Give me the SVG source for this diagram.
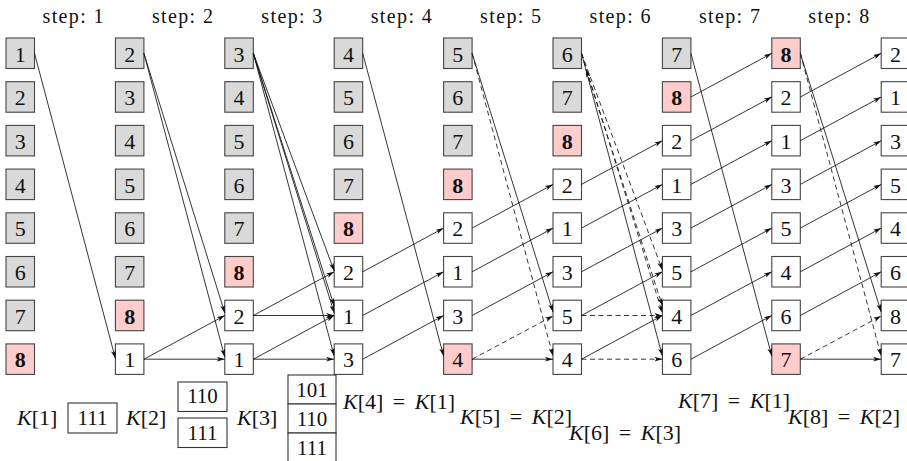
<svg xmlns="http://www.w3.org/2000/svg" width="907" height="461" viewBox="0 0 907 461" font-family="Liberation Serif, serif">
<style>
text{font-family:'Liberation Serif',serif;fill:#111}
.n rect{stroke:#444;stroke-width:1.1}
.n text{font-size:22px;text-anchor:middle}
.g rect{fill:#d9d9d9}
.p rect{fill:#ffcccc}
.w rect{fill:#fff}
.b text{font-weight:bold}
.st{font-size:20px;text-anchor:middle}
.k text{font-size:22px}
.kb rect{fill:#fff;stroke:#333;stroke-width:1.1}
.kb text{font-size:21px;text-anchor:middle}
.i{font-style:italic}
#edges path{fill:none;stroke:#111;stroke-width:0.85;marker-end:url(#ah)}
#edges path.d{stroke-dasharray:5 3.5}
</style>
<defs>
<marker id="ah" viewBox="0 0 10 6" refX="10" refY="3" markerWidth="8" markerHeight="5" markerUnits="userSpaceOnUse" orient="auto-start-reverse"><path d="M0,0 L10,3 L0,6 L2.5,3 z" fill="#111"/></marker>
</defs>
<rect width="907" height="461" fill="#fff"/>
<g id="steps">
<text class="st" x="73" y="22.5" textLength="61" lengthAdjust="spacing">step: 1</text>
<text class="st" x="182.4" y="22.5" textLength="61" lengthAdjust="spacing">step: 2</text>
<text class="st" x="291.8" y="22.5" textLength="61" lengthAdjust="spacing">step: 3</text>
<text class="st" x="401.2" y="22.5" textLength="61" lengthAdjust="spacing">step: 4</text>
<text class="st" x="510.6" y="22.5" textLength="61" lengthAdjust="spacing">step: 5</text>
<text class="st" x="620" y="22.5" textLength="61" lengthAdjust="spacing">step: 6</text>
<text class="st" x="729.4" y="22.5" textLength="61" lengthAdjust="spacing">step: 7</text>
<text class="st" x="838.8" y="22.5" textLength="61" lengthAdjust="spacing">step: 8</text>
</g>
<!-- column 1 -->
<g id="c1r1" class="n g" transform="translate(6,38)"><rect width="28.5" height="30.5"/><text x="14.25" y="23.5">1</text></g>
<g id="c1r2" class="n g" transform="translate(6,81.7)"><rect width="28.5" height="30.5"/><text x="14.25" y="23.5">2</text></g>
<g id="c1r3" class="n g" transform="translate(6,125.4)"><rect width="28.5" height="30.5"/><text x="14.25" y="23.5">3</text></g>
<g id="c1r4" class="n g" transform="translate(6,169.1)"><rect width="28.5" height="30.5"/><text x="14.25" y="23.5">4</text></g>
<g id="c1r5" class="n g" transform="translate(6,212.8)"><rect width="28.5" height="30.5"/><text x="14.25" y="23.5">5</text></g>
<g id="c1r6" class="n g" transform="translate(6,256.5)"><rect width="28.5" height="30.5"/><text x="14.25" y="23.5">6</text></g>
<g id="c1r7" class="n g" transform="translate(6,300.2)"><rect width="28.5" height="30.5"/><text x="14.25" y="23.5">7</text></g>
<g id="c1r8" class="n p b" transform="translate(6,343.9)"><rect width="28.5" height="30.5"/><text x="14.25" y="23.5">8</text></g>
<!-- column 2 -->
<g id="c2r1" class="n g" transform="translate(115.4,38)"><rect width="28.5" height="30.5"/><text x="14.25" y="23.5">2</text></g>
<g id="c2r2" class="n g" transform="translate(115.4,81.7)"><rect width="28.5" height="30.5"/><text x="14.25" y="23.5">3</text></g>
<g id="c2r3" class="n g" transform="translate(115.4,125.4)"><rect width="28.5" height="30.5"/><text x="14.25" y="23.5">4</text></g>
<g id="c2r4" class="n g" transform="translate(115.4,169.1)"><rect width="28.5" height="30.5"/><text x="14.25" y="23.5">5</text></g>
<g id="c2r5" class="n g" transform="translate(115.4,212.8)"><rect width="28.5" height="30.5"/><text x="14.25" y="23.5">6</text></g>
<g id="c2r6" class="n g" transform="translate(115.4,256.5)"><rect width="28.5" height="30.5"/><text x="14.25" y="23.5">7</text></g>
<g id="c2r7" class="n p b" transform="translate(115.4,300.2)"><rect width="28.5" height="30.5"/><text x="14.25" y="23.5">8</text></g>
<g id="c2r8" class="n w" transform="translate(115.4,343.9)"><rect width="28.5" height="30.5"/><text x="14.25" y="23.5">1</text></g>
<!-- column 3 -->
<g id="c3r1" class="n g" transform="translate(224.8,38)"><rect width="28.5" height="30.5"/><text x="14.25" y="23.5">3</text></g>
<g id="c3r2" class="n g" transform="translate(224.8,81.7)"><rect width="28.5" height="30.5"/><text x="14.25" y="23.5">4</text></g>
<g id="c3r3" class="n g" transform="translate(224.8,125.4)"><rect width="28.5" height="30.5"/><text x="14.25" y="23.5">5</text></g>
<g id="c3r4" class="n g" transform="translate(224.8,169.1)"><rect width="28.5" height="30.5"/><text x="14.25" y="23.5">6</text></g>
<g id="c3r5" class="n g" transform="translate(224.8,212.8)"><rect width="28.5" height="30.5"/><text x="14.25" y="23.5">7</text></g>
<g id="c3r6" class="n p b" transform="translate(224.8,256.5)"><rect width="28.5" height="30.5"/><text x="14.25" y="23.5">8</text></g>
<g id="c3r7" class="n w" transform="translate(224.8,300.2)"><rect width="28.5" height="30.5"/><text x="14.25" y="23.5">2</text></g>
<g id="c3r8" class="n w" transform="translate(224.8,343.9)"><rect width="28.5" height="30.5"/><text x="14.25" y="23.5">1</text></g>
<!-- column 4 -->
<g id="c4r1" class="n g" transform="translate(334.2,38)"><rect width="28.5" height="30.5"/><text x="14.25" y="23.5">4</text></g>
<g id="c4r2" class="n g" transform="translate(334.2,81.7)"><rect width="28.5" height="30.5"/><text x="14.25" y="23.5">5</text></g>
<g id="c4r3" class="n g" transform="translate(334.2,125.4)"><rect width="28.5" height="30.5"/><text x="14.25" y="23.5">6</text></g>
<g id="c4r4" class="n g" transform="translate(334.2,169.1)"><rect width="28.5" height="30.5"/><text x="14.25" y="23.5">7</text></g>
<g id="c4r5" class="n p b" transform="translate(334.2,212.8)"><rect width="28.5" height="30.5"/><text x="14.25" y="23.5">8</text></g>
<g id="c4r6" class="n w" transform="translate(334.2,256.5)"><rect width="28.5" height="30.5"/><text x="14.25" y="23.5">2</text></g>
<g id="c4r7" class="n w" transform="translate(334.2,300.2)"><rect width="28.5" height="30.5"/><text x="14.25" y="23.5">1</text></g>
<g id="c4r8" class="n w" transform="translate(334.2,343.9)"><rect width="28.5" height="30.5"/><text x="14.25" y="23.5">3</text></g>
<!-- column 5 -->
<g id="c5r1" class="n g" transform="translate(443.6,38)"><rect width="28.5" height="30.5"/><text x="14.25" y="23.5">5</text></g>
<g id="c5r2" class="n g" transform="translate(443.6,81.7)"><rect width="28.5" height="30.5"/><text x="14.25" y="23.5">6</text></g>
<g id="c5r3" class="n g" transform="translate(443.6,125.4)"><rect width="28.5" height="30.5"/><text x="14.25" y="23.5">7</text></g>
<g id="c5r4" class="n p b" transform="translate(443.6,169.1)"><rect width="28.5" height="30.5"/><text x="14.25" y="23.5">8</text></g>
<g id="c5r5" class="n w" transform="translate(443.6,212.8)"><rect width="28.5" height="30.5"/><text x="14.25" y="23.5">2</text></g>
<g id="c5r6" class="n w" transform="translate(443.6,256.5)"><rect width="28.5" height="30.5"/><text x="14.25" y="23.5">1</text></g>
<g id="c5r7" class="n w" transform="translate(443.6,300.2)"><rect width="28.5" height="30.5"/><text x="14.25" y="23.5">3</text></g>
<g id="c5r8" class="n p" transform="translate(443.6,343.9)"><rect width="28.5" height="30.5"/><text x="14.25" y="23.5">4</text></g>
<!-- column 6 -->
<g id="c6r1" class="n g" transform="translate(553,38)"><rect width="28.5" height="30.5"/><text x="14.25" y="23.5">6</text></g>
<g id="c6r2" class="n g" transform="translate(553,81.7)"><rect width="28.5" height="30.5"/><text x="14.25" y="23.5">7</text></g>
<g id="c6r3" class="n p b" transform="translate(553,125.4)"><rect width="28.5" height="30.5"/><text x="14.25" y="23.5">8</text></g>
<g id="c6r4" class="n w" transform="translate(553,169.1)"><rect width="28.5" height="30.5"/><text x="14.25" y="23.5">2</text></g>
<g id="c6r5" class="n w" transform="translate(553,212.8)"><rect width="28.5" height="30.5"/><text x="14.25" y="23.5">1</text></g>
<g id="c6r6" class="n w" transform="translate(553,256.5)"><rect width="28.5" height="30.5"/><text x="14.25" y="23.5">3</text></g>
<g id="c6r7" class="n w" transform="translate(553,300.2)"><rect width="28.5" height="30.5"/><text x="14.25" y="23.5">5</text></g>
<g id="c6r8" class="n w" transform="translate(553,343.9)"><rect width="28.5" height="30.5"/><text x="14.25" y="23.5">4</text></g>
<!-- column 7 -->
<g id="c7r1" class="n g" transform="translate(662.4,38)"><rect width="28.5" height="30.5"/><text x="14.25" y="23.5">7</text></g>
<g id="c7r2" class="n p b" transform="translate(662.4,81.7)"><rect width="28.5" height="30.5"/><text x="14.25" y="23.5">8</text></g>
<g id="c7r3" class="n w" transform="translate(662.4,125.4)"><rect width="28.5" height="30.5"/><text x="14.25" y="23.5">2</text></g>
<g id="c7r4" class="n w" transform="translate(662.4,169.1)"><rect width="28.5" height="30.5"/><text x="14.25" y="23.5">1</text></g>
<g id="c7r5" class="n w" transform="translate(662.4,212.8)"><rect width="28.5" height="30.5"/><text x="14.25" y="23.5">3</text></g>
<g id="c7r6" class="n w" transform="translate(662.4,256.5)"><rect width="28.5" height="30.5"/><text x="14.25" y="23.5">5</text></g>
<g id="c7r7" class="n w" transform="translate(662.4,300.2)"><rect width="28.5" height="30.5"/><text x="14.25" y="23.5">4</text></g>
<g id="c7r8" class="n w" transform="translate(662.4,343.9)"><rect width="28.5" height="30.5"/><text x="14.25" y="23.5">6</text></g>
<!-- column 8 -->
<g id="c8r1" class="n p b" transform="translate(771.8,38)"><rect width="28.5" height="30.5"/><text x="14.25" y="23.5">8</text></g>
<g id="c8r2" class="n w" transform="translate(771.8,81.7)"><rect width="28.5" height="30.5"/><text x="14.25" y="23.5">2</text></g>
<g id="c8r3" class="n w" transform="translate(771.8,125.4)"><rect width="28.5" height="30.5"/><text x="14.25" y="23.5">1</text></g>
<g id="c8r4" class="n w" transform="translate(771.8,169.1)"><rect width="28.5" height="30.5"/><text x="14.25" y="23.5">3</text></g>
<g id="c8r5" class="n w" transform="translate(771.8,212.8)"><rect width="28.5" height="30.5"/><text x="14.25" y="23.5">5</text></g>
<g id="c8r6" class="n w" transform="translate(771.8,256.5)"><rect width="28.5" height="30.5"/><text x="14.25" y="23.5">4</text></g>
<g id="c8r7" class="n w" transform="translate(771.8,300.2)"><rect width="28.5" height="30.5"/><text x="14.25" y="23.5">6</text></g>
<g id="c8r8" class="n p" transform="translate(771.8,343.9)"><rect width="28.5" height="30.5"/><text x="14.25" y="23.5">7</text></g>
<!-- column 9 -->
<g id="c9r1" class="n w" transform="translate(881.2,38)"><rect width="28.5" height="30.5"/><text x="14.25" y="23.5">2</text></g>
<g id="c9r2" class="n w" transform="translate(881.2,81.7)"><rect width="28.5" height="30.5"/><text x="14.25" y="23.5">1</text></g>
<g id="c9r3" class="n w" transform="translate(881.2,125.4)"><rect width="28.5" height="30.5"/><text x="14.25" y="23.5">3</text></g>
<g id="c9r4" class="n w" transform="translate(881.2,169.1)"><rect width="28.5" height="30.5"/><text x="14.25" y="23.5">5</text></g>
<g id="c9r5" class="n w" transform="translate(881.2,212.8)"><rect width="28.5" height="30.5"/><text x="14.25" y="23.5">4</text></g>
<g id="c9r6" class="n w" transform="translate(881.2,256.5)"><rect width="28.5" height="30.5"/><text x="14.25" y="23.5">6</text></g>
<g id="c9r7" class="n w" transform="translate(881.2,300.2)"><rect width="28.5" height="30.5"/><text x="14.25" y="23.5">8</text></g>
<g id="c9r8" class="n w" transform="translate(881.2,343.9)"><rect width="28.5" height="30.5"/><text x="14.25" y="23.5">7</text></g>
<!-- connectors -->
<g id="edges">
<path d="M34.5,53.3L115.4,358.5"/>
<path d="M143.9,53.3L224.8,313"/>
<path d="M143.9,53.3L224.8,357"/>
<path d="M143.9,359.2L224.8,315.5"/>
<path d="M143.9,359.2L224.8,359.2"/>
<path d="M253.3,53.3L334.2,271"/>
<path d="M253.3,53.3L334.2,306"/>
<path d="M253.3,53.3L334.2,313"/>
<path d="M253.3,53.3L334.2,356"/>
<path d="M253.3,315.5L334.2,271.8"/>
<path d="M253.3,315.5L334.2,315.5"/>
<path d="M253.3,359.2L334.2,315.5"/>
<path d="M253.3,359.2L334.2,359.2"/>
<path d="M362.7,53.3L443.6,356"/>
<path d="M362.7,271.8L443.6,228.1"/>
<path d="M362.7,315.5L443.6,271.8"/>
<path d="M362.7,359.2L443.6,315.5"/>
<path d="M472.1,53.3L553,312"/>
<path class="d" d="M472.1,53.3L553,356"/>
<path d="M472.1,228.1L553,184.4"/>
<path d="M472.1,271.8L553,228.1"/>
<path d="M472.1,315.5L553,271.8"/>
<path class="d" d="M472.1,359.2L553,316"/>
<path d="M472.1,359.2L553,359.2"/>
<path d="M581.5,53.3L662.4,356"/>
<path class="d" d="M581.5,53.3L662.4,313"/>
<path class="d" d="M586,69.5L662.4,306" style="marker-start:url(#ah)"/>
<path class="d" d="M581.5,53.3L662.4,270"/>
<path d="M581.5,184.4L662.4,140.7"/>
<path d="M581.5,228.1L662.4,184.4"/>
<path d="M581.5,271.8L662.4,228.1"/>
<path d="M581.5,315.5L662.4,271.8"/>
<path class="d" d="M581.5,315.5L662.4,315.5"/>
<path d="M581.5,359.2L662.4,315.5"/>
<path class="d" d="M581.5,359.2L662.4,359.2"/>
<path d="M690.9,53.3L771.8,356"/>
<path d="M690.9,97L771.8,53.3"/>
<path d="M690.9,140.7L771.8,97"/>
<path d="M690.9,184.4L771.8,140.7"/>
<path d="M690.9,228.1L771.8,184.4"/>
<path d="M690.9,271.8L771.8,228.1"/>
<path d="M690.9,315.5L771.8,271.8"/>
<path d="M690.9,359.2L771.8,315.5"/>
<path d="M800.3,53.3L881.2,312"/>
<path class="d" d="M800.3,53.3L881.2,356"/>
<path d="M800.3,97L881.2,53.3"/>
<path d="M800.3,140.7L881.2,97"/>
<path d="M800.3,184.4L881.2,140.7"/>
<path d="M800.3,228.1L881.2,184.4"/>
<path d="M800.3,271.8L881.2,228.1"/>
<path d="M800.3,315.5L881.2,271.8"/>
<path class="d" d="M800.3,359.2L881.2,316"/>
<path d="M800.3,359.2L881.2,359.2"/>
</g>
<!-- K tables -->
<g id="k1" class="kb"><rect x="68" y="403" width="49" height="30"/><text x="92.5" y="425">111</text></g>
<g id="k2" class="kb"><rect x="178" y="382" width="49" height="29.5"/><text x="202.5" y="403">110</text><rect x="178" y="418" width="49" height="29.5"/><text x="202.5" y="439.5">111</text></g>
<g id="k3" class="kb"><rect x="288" y="375" width="48" height="29"/><text x="312" y="397">101</text><rect x="288" y="404" width="48" height="29"/><text x="312" y="426">110</text><rect x="288" y="433" width="48" height="30"/><text x="312" y="455">111</text></g>
<g id="klabels" class="k">
<text x="17" y="425"><tspan class="i">K</tspan>[1]</text>
<text x="126" y="425"><tspan class="i">K</tspan>[2]</text>
<text x="237" y="425"><tspan class="i">K</tspan>[3]</text>
<text x="343" y="409" word-spacing="4"><tspan class="i">K</tspan>[4] = <tspan class="i">K</tspan>[1]</text>
<text x="460" y="424" word-spacing="4"><tspan class="i">K</tspan>[5] = <tspan class="i">K</tspan>[2]</text>
<text x="569" y="440" word-spacing="4"><tspan class="i">K</tspan>[6] = <tspan class="i">K</tspan>[3]</text>
<text x="678" y="408" word-spacing="4"><tspan class="i">K</tspan>[7] = <tspan class="i">K</tspan>[1]</text>
<text x="788" y="424" word-spacing="4"><tspan class="i">K</tspan>[8] = <tspan class="i">K</tspan>[2]</text>
</g>
</svg>
